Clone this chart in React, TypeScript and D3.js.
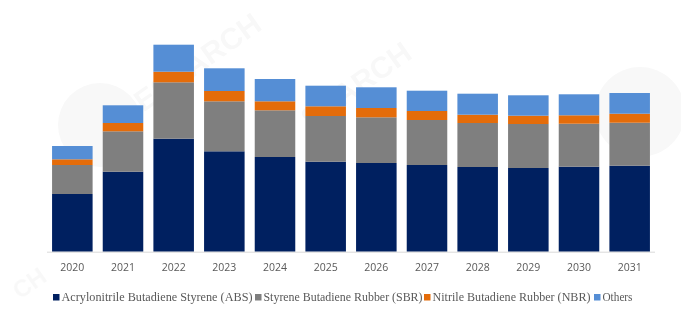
import React from "react";
import * as d3 from "d3";

const years = ["2020","2021","2022","2023","2024","2025","2026","2027","2028","2029","2030","2031"];
const absValues = [57.7, 80, 113, 100.4, 94.7, 90, 88.7, 86.7, 84.7, 83.7, 85, 86];
const sbrValues = [29, 40.4, 56.4, 50, 46.7, 45.7, 45.7, 45, 44, 44, 43, 43];
const nbrValues = [5.7, 8.3, 10.6, 10.3, 9, 9.7, 9.3, 9, 8.3, 8.3, 8.4, 9];
const otherValues = [13.3, 17.7, 27, 22.7, 22.3, 20.6, 20.7, 20.3, 21, 20.4, 21, 20.7];

const seriesNames = [
  "Acrylonitrile Butadiene Styrene (ABS)",
  "Styrene Butadiene Rubber (SBR)",
  "Nitrile Butadiene Rubber (NBR)",
  "Others",
];
const seriesKeys = ["abs", "sbr", "nbr", "others"];
const colors = ["#002060", "#7f7f7f", "#e46c0a", "#558ed5"];

export default function App() {
  const W = 681, H = 322;
  const left = 47, right = 655, baseline = 251.7;
  const rows = years.map((y, i) => ({
    year: y, abs: absValues[i], sbr: sbrValues[i], nbr: nbrValues[i], others: otherValues[i],
  }));
  const stack = d3.stack<any>().keys(seriesKeys)(rows);
  const x = d3.scaleBand().domain(years).range([left, right]).paddingInner(0.2).paddingOuter(0.1);
  const y = d3.scaleLinear().domain([0, 220]).range([baseline, baseline - 220]);

  const legendX = [53, 255, 424, 594];
  const legendW = [191, 159, 158, 30];

  return (
    <svg width={W} height={H} style={{ position: "absolute", left: 0, top: 0, background: "#fff" }}>
      <g opacity={0.03} fill="#000" fontFamily="Arial, sans-serif" fontWeight="bold">
        <circle cx={100} cy={125} r={42} />
        <circle cx={640} cy={112} r={45} />
        <text x={90} y={150} fontSize={30} transform="rotate(-35 90 150)">QYRESEARCH</text>
        <text x={310} y={130} fontSize={30} transform="rotate(-35 310 130)">SEARCH</text>
        <text x={20} y={300} fontSize={24} transform="rotate(-35 20 300)">CH</text>
      </g>
      {stack.map((s, si) => (
        <g key={si} fill={colors[si]}>
          {s.map((d, i) => (
            <rect key={i} x={x(years[i])} width={x.bandwidth()} y={y(d[1])} height={y(d[0]) - y(d[1])} />
          ))}
        </g>
      ))}
      <line x1={left} x2={right} y1={baseline + 0.5} y2={baseline + 0.5} stroke="#d9d9d9" strokeWidth={1} />
      <g fontFamily="'Open Sans', Carlito, sans-serif" fontSize={10.5} fill="#595959" textAnchor="middle">
        {years.map((yr) => (
          <text key={yr} x={(x(yr) as number) + x.bandwidth() / 2} y={271}>{yr}</text>
        ))}
      </g>
      <g fontFamily="'Liberation Serif', 'Times New Roman', serif" fontSize={12} fill="#595959">
        {seriesNames.map((n, i) => (
          <g key={n}>
            <rect x={legendX[i]} y={294} width={6.5} height={6.5} fill={colors[i]} />
            <text x={legendX[i] + 8.5} y={301} textLength={legendW[i]} lengthAdjust="spacingAndGlyphs">{n}</text>
          </g>
        ))}
      </g>
    </svg>
  );
}
